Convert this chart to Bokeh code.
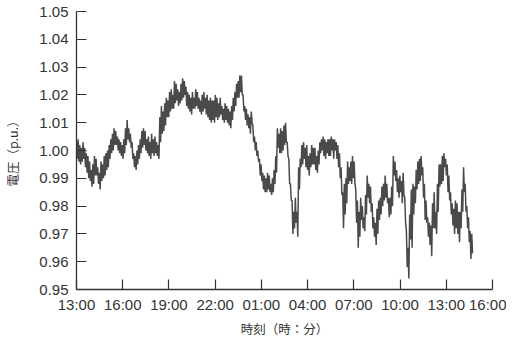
from bokeh.plotting import figure
from bokeh.models import FixedTicker, Range1d
from bokeh.embed import file_html
from bokeh.resources import INLINE
import numpy as np

# ---- data ----
# sampling interval of the record, minutes (alternating high/low readings)
sample_minutes = 3.18

seg1 = [1.003, 0.997, 1.004, 0.996, 1.002, 0.995, 1.001, 0.996, 1.003, 0.997,
        1.001, 0.994, 0.999, 0.992, 0.998, 0.990, 0.996, 0.989, 0.993, 0.987,
        0.995, 0.988, 0.998, 0.991, 0.997, 0.991, 0.994, 0.988, 0.992, 0.986,
        0.996, 0.989, 0.995, 0.990, 0.998, 0.991, 0.999, 0.993, 1.000, 0.994,
        1.002, 0.997, 1.004, 0.999, 1.006, 1.000, 1.008, 1.002, 1.007, 1.002,
        1.005, 1.000, 1.004, 0.999, 1.003, 0.998, 1.002, 0.997, 1.004, 0.999,
        1.008, 1.002, 1.011, 1.004, 1.008, 1.003, 1.006, 1.001, 1.003, 0.997,
        0.999, 0.994, 0.998, 0.993, 1.000, 0.995, 1.002, 0.997, 1.004, 0.999,
        1.007, 1.001]
seg2 = [1.008, 1.002, 1.007, 1.000, 1.004, 0.999, 1.005, 0.998, 1.003, 0.997,
        1.006, 0.999, 1.004, 0.998, 1.005, 0.999, 1.003, 0.998, 1.002, 0.997,
        1.012, 1.003, 1.016, 1.006, 1.014, 1.007, 1.017, 1.009, 1.019, 1.012,
        1.018, 1.012, 1.021, 1.014, 1.022, 1.015, 1.020, 1.015, 1.025, 1.017,
        1.024, 1.018, 1.022, 1.016, 1.021, 1.017, 1.024, 1.018, 1.026, 1.019,
        1.025, 1.020, 1.023, 1.016, 1.021, 1.015, 1.020, 1.014, 1.019, 1.013,
        1.021, 1.015, 1.019, 1.015, 1.022, 1.016, 1.021, 1.015, 1.019, 1.014,
        1.018, 1.013, 1.020, 1.014, 1.021, 1.015, 1.019, 1.013, 1.020, 1.012,
        1.018, 1.011]
seg3 = [1.019, 1.010, 1.018, 1.011, 1.018, 1.010, 1.020, 1.012, 1.019, 1.011,
        1.017, 1.012, 1.019, 1.013, 1.016, 1.011, 1.015, 1.010, 1.017, 1.011,
        1.016, 1.010, 1.015, 1.009, 1.014, 1.008, 1.016, 1.011, 1.019, 1.014,
        1.021, 1.016, 1.024, 1.019, 1.025, 1.019, 1.027, 1.021, 1.027, 1.020,
        1.020, 1.014, 1.016, 1.011, 1.015, 1.009, 1.013, 1.008, 1.012, 1.006,
        1.014, 1.010, 1.009, 1.003, 1.005, 1.000, 1.003, 0.998, 1.000, 0.996,
        0.997, 0.991, 0.995, 0.989, 0.992, 0.986, 0.991, 0.985, 0.990, 0.985,
        0.992, 0.986, 0.991, 0.985, 0.988, 0.984, 0.990, 0.985, 0.993, 0.988,
        0.998, 0.992]
seg4 = [1.008, 1.001, 1.006, 0.999, 1.008, 0.999, 1.007, 1.000, 1.009, 1.002,
        1.010, 1.003, 1.003, 0.998, 0.997, 0.988, 0.988, 0.982, 0.982, 0.970,
        0.978, 0.972, 0.983, 0.974, 0.978, 0.969, 0.994, 0.986, 0.997, 0.994,
        1.002, 0.995, 1.003, 0.997, 1.001, 0.994, 1.002, 0.993, 0.998, 0.991,
        0.999, 0.994, 1.002, 0.995, 1.001, 0.995, 1.001, 0.993, 0.998, 0.992,
        1.000, 0.995, 1.003, 0.999, 1.004, 1.000, 1.005, 0.998, 1.004, 0.997,
        1.003, 0.999, 1.004, 0.998, 1.004, 0.998, 1.005, 1.000, 1.004, 0.997,
        1.004, 1.000, 1.003, 0.997, 1.002, 0.994, 0.999, 0.990, 0.994, 0.984,
        0.985, 0.972]
seg5 = [0.988, 0.977, 0.990, 0.981, 0.996, 0.988, 0.994, 0.989, 0.996, 0.988,
        0.998, 0.990, 0.996, 0.988, 0.986, 0.974, 0.982, 0.965, 0.978, 0.969,
        0.983, 0.975, 0.980, 0.972, 0.976, 0.971, 0.984, 0.977, 0.991, 0.983,
        0.988, 0.981, 0.987, 0.978, 0.981, 0.972, 0.976, 0.969, 0.974, 0.966,
        0.979, 0.970, 0.982, 0.975, 0.983, 0.977, 0.987, 0.980, 0.988, 0.982,
        0.991, 0.983, 0.988, 0.981, 0.983, 0.976, 0.983, 0.977, 0.987, 0.980,
        0.998, 0.991, 0.996, 0.989, 0.993, 0.985, 0.990, 0.983, 0.991, 0.985,
        0.989, 0.981, 0.992, 0.984, 0.983, 0.974, 0.971, 0.958, 0.965, 0.954,
        0.977, 0.968]
seg6 = [0.986, 0.965, 0.988, 0.977, 0.987, 0.981, 0.993, 0.986, 0.996, 0.988,
        0.997, 0.989, 0.998, 0.991, 0.994, 0.983, 0.988, 0.975, 0.982, 0.974,
        0.976, 0.969, 0.974, 0.966, 0.973, 0.962, 0.981, 0.972, 0.985, 0.972,
        0.978, 0.970, 0.988, 0.978, 0.995, 0.987, 0.995, 0.988, 0.998, 0.989,
        0.999, 0.994, 0.997, 0.991, 0.995, 0.985, 0.991, 0.982, 0.985, 0.977,
        0.981, 0.973, 0.979, 0.970, 0.982, 0.972, 0.981, 0.970, 0.978, 0.967,
        0.978, 0.972, 0.986, 0.978, 0.994, 0.985, 0.988, 0.978, 0.980, 0.972,
        0.976, 0.967, 0.971, 0.961, 0.970, 0.963]

voltage = seg1 + seg2 + seg3 + seg4 + seg5 + seg6
hours = np.arange(len(voltage)) * sample_minutes / 60.0  # hours after 13:00

x_ticks = [0, 3, 6, 9, 12, 15, 18, 21, 24, 27]
x_tick_labels = ["13:00", "16:00", "19:00", "22:00", "01:00", "04:00",
                 "07:00", "10:00", "13:00", "16:00"]
y_tick_labels = ["0.95", "0.96", "0.97", "0.98", "0.99", "1.00",
                 "1.01", "1.02", "1.03", "1.04", "1.05"]
y_ticks = [float(s) for s in y_tick_labels]

# ---- figure ----
p = figure(width=506, height=340, output_backend="svg", toolbar_location=None,
           x_range=Range1d(0, 27), y_range=Range1d(0.95, 1.05),
           min_border_left=71, min_border_right=14,
           min_border_top=11, min_border_bottom=44)
p.xgrid.visible = False
p.ygrid.visible = False
p.outline_line_color = None
p.background_fill_color = "white"

p.line(hours, voltage, line_color="#4a4a4a", line_width=1.5)

tick_font = "Liberation Sans"
cjk_font = "Noto Sans CJK JP"

for ax in (p.xaxis[0], p.yaxis[0]):
    ax.axis_line_color = "#333333"
    ax.axis_line_width = 1.3
    ax.major_tick_line_color = "#333333"
    ax.major_tick_line_width = 1.2
    ax.major_tick_in = 10
    ax.major_tick_out = 0
    ax.minor_tick_in = 0
    ax.minor_tick_out = 0
    ax.major_label_text_font = tick_font
    ax.major_label_text_font_size = "15px"
    ax.major_label_text_color = "#333333"
    ax.axis_label_text_font = cjk_font
    ax.axis_label_text_font_size = "12.5px"
    ax.axis_label_text_font_style = "normal"
    ax.axis_label_text_color = "#333333"

xa = p.xaxis[0]
xa.ticker = FixedTicker(ticks=x_ticks)
xa.major_label_overrides = {t: s for t, s in zip(x_ticks, x_tick_labels)}
xa.major_label_standoff = 6
xa.axis_label = "時刻（時：分）"
xa.axis_label_standoff = 3

ya = p.yaxis[0]
ya.ticker = FixedTicker(ticks=y_ticks)
ya.major_label_overrides = {t: s for t, s in zip(y_ticks, y_tick_labels)}
ya.major_label_standoff = 8
ya.axis_label = "電圧（p.u.）"
ya.axis_label_standoff = 14

open("out.html", "w").write(file_html(p, INLINE))
